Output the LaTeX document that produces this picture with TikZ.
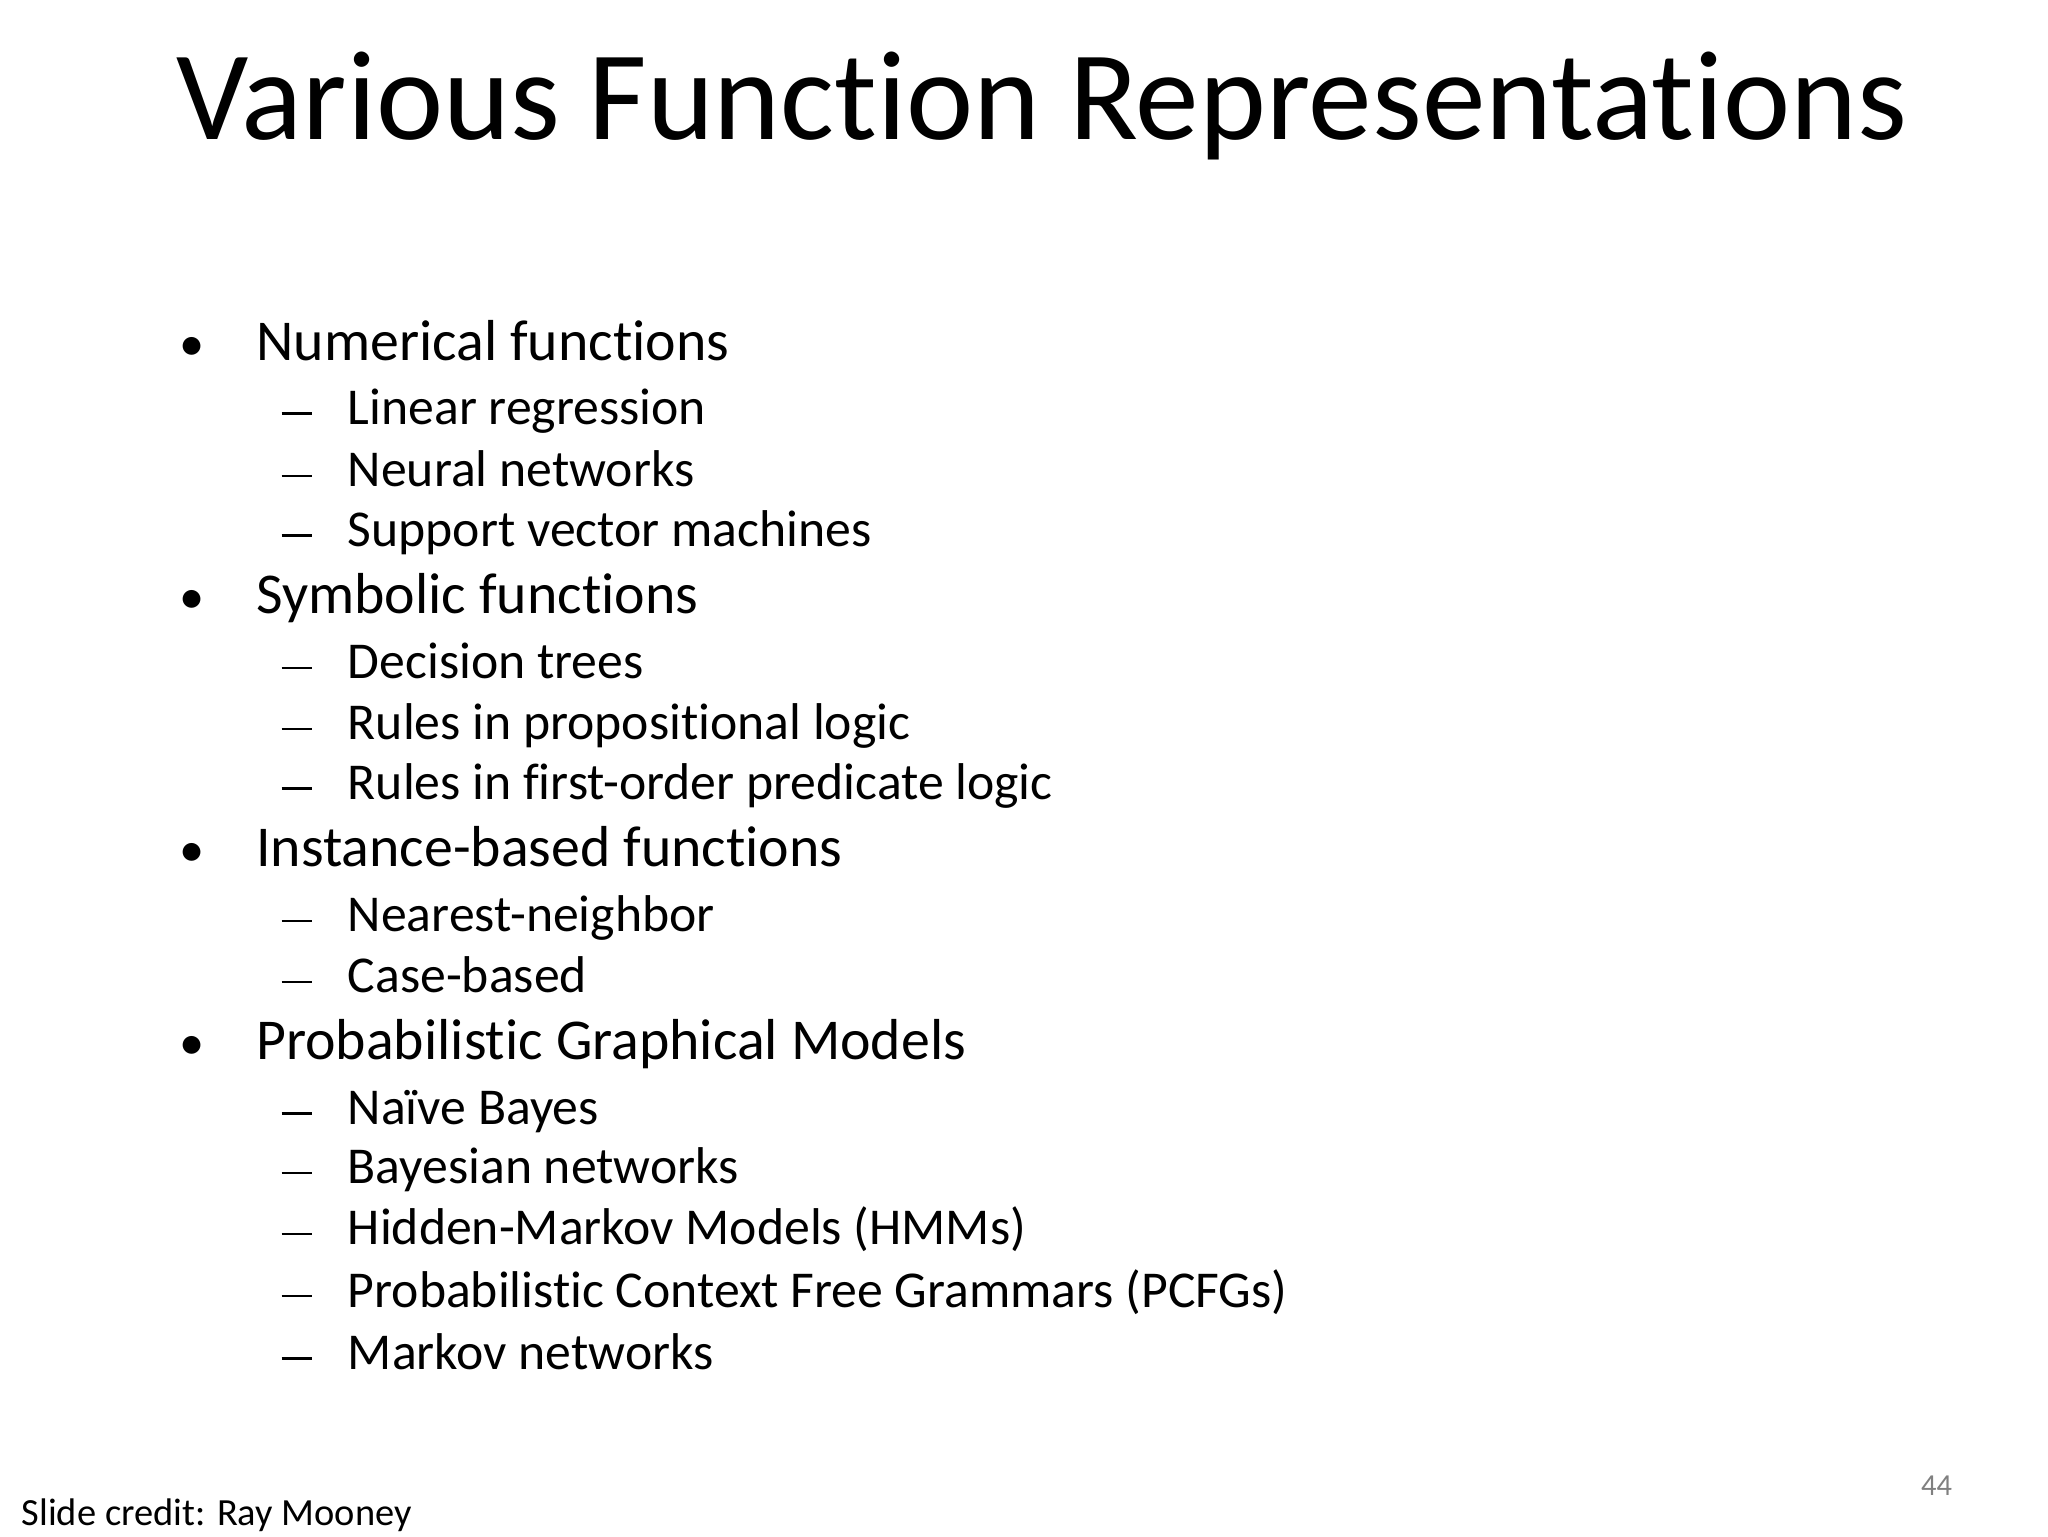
\documentclass[tikz,border=0pt]{standalone}
\usepackage{fontspec}
\setmainfont{Carlito}[Ligatures=NoCommon]
\begin{document}
\begin{tikzpicture}[x=0.5pt,y=-0.5pt,
  lone/.style={anchor=base west,inner sep=0pt,font=\fontsize{21.8}{26}\selectfont},
  ltwo/.style={anchor=base west,inner sep=0pt,font=\fontsize{19.5}{23}\selectfont},
  mk/.style={anchor=base west,inner sep=0pt}]
\useasboundingbox[fill=white] (0,0) rectangle (1545,1159);
\node[anchor=base west,inner sep=0pt,font=\fontsize{48}{52}\selectfont] (title) at (133,105) {Various Function Representations};
\foreach \n/\y/\t in {a/272/Numerical functions,b/463/Symbolic functions,c/654/Instance-based functions,d/799/Probabilistic Graphical Models}{
  \node[mk,font=\fontsize{19}{22}\selectfont] (b\n) at (135,\y) {•};
  \node[lone] (t\n) at (193,\y) {\t};
}
\foreach \n/\y/\t in {a1/320/Linear regression,a2/367/Neural networks,a3/412/Support vector machines,
 b1/512/Decision trees,b2/558/Rules in propositional logic,b3/603/Rules in first-order predicate logic,
 c1/703/Nearest-neighbor,c2/749/Case-based,
 d1/848/Naïve Bayes,d2/893/Bayesian networks,d3/939/Hidden-Markov Models (HMMs),d4/986/Probabilistic Context Free Grammars (PCFGs),d5/1033/Markov networks}{
  \node[mk] (m\n) at (212,\y) {\rule[3.6pt]{11.5pt}{0.9pt}};
  \node[ltwo] (s\n) at (262,\y) {\t};
}
\node[anchor=base east,inner sep=0pt,font=\fontsize{11.5}{13}\selectfont,text=gray] (pg) at (1473,1128) {44};
\node[anchor=base west,inner sep=0pt,font=\fontsize{14.5}{17}\selectfont] (cr) at (16,1151) {Slide credit: Ray Mooney};
\end{tikzpicture}
\end{document}
